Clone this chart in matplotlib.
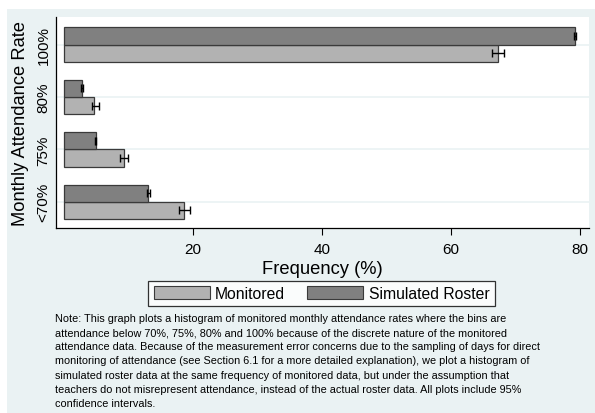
import numpy as np
import matplotlib.pyplot as plt
from matplotlib.patches import Rectangle, Patch

plt.rcParams['font.family'] = ['Liberation Sans', 'DejaVu Sans']

# bins of monthly attendance, bottom to top
categories = ['<70%', '75%', '80%', '100%']
monitored = [18.6, 9.3, 4.7, 67.3]
monitored_lo = [17.8, 8.7, 4.3, 66.4]
monitored_hi = [19.6, 9.9, 5.4, 68.2]
simulated = [13.1, 4.9, 2.8, 79.2]
simulated_lo = [12.9, 4.8, 2.7, 79.0]
simulated_hi = [13.3, 5.0, 3.0, 79.4]

note = ("Note: This graph plots a histogram of monitored monthly attendance rates where the bins are\n"
        "attendance below 70%, 75%, 80% and 100% because of the discrete nature of the monitored\n"
        "attendance data. Because of the measurement error concerns due to the sampling of days for direct\n"
        "monitoring of attendance (see Section 6.1 for a more detailed explanation), we plot a histogram of\n"
        "simulated roster data at the same frequency of monitored data, but under the assumption that\n"
        "teachers do not misrepresent attendance, instead of the actual roster data. All plots include 95%\n"
        "confidence intervals.")

bg = '#eaf2f3'
light = '#b2b2b2'
dark = '#808080'
edge = '#3a3a3a'

W, H = 595, 414
fig = plt.figure(figsize=(W / 100, H / 100), dpi=100)
fig.patches.append(Rectangle((7 / W, 0), 1, 1 - 10 / H, transform=fig.transFigure,
                             facecolor=bg, edgecolor='none', zorder=-10))

ax = fig.add_axes([56 / W, 1 - 229 / H, (589 - 56) / W, (229 - 18) / H])
ax.set_facecolor('white')

y = np.arange(len(categories))
h = 0.33
mon = np.array(monitored)
sim = np.array(simulated)

ax.barh(y - h / 2, mon, height=h, color=light, edgecolor=edge, linewidth=0.9, zorder=3)
ax.barh(y + h / 2, sim, height=h, color=dark, edgecolor=edge, linewidth=0.9, zorder=3)
ax.errorbar(mon, y - h / 2, xerr=[mon - np.array(monitored_lo), np.array(monitored_hi) - mon],
            fmt='none', ecolor='black', elinewidth=1, capsize=3, capthick=1, zorder=4)
ax.errorbar(sim, y + h / 2, xerr=[sim - np.array(simulated_lo), np.array(simulated_hi) - sim],
            fmt='none', ecolor='black', elinewidth=1, capsize=3, capthick=1, zorder=4)

for yy in y:
    ax.axhline(yy, color=bg, linewidth=1.2, zorder=1)

ax.set_xlim(-1.24, 81.4)
ax.set_ylim(-0.5, 3.53)
ax.set_xticks([20, 40, 60, 80])
ax.tick_params(axis='x', length=5, width=0.8, labelsize=11, pad=5)
ax.set_yticks(y)
ax.set_yticklabels(categories, rotation=90, va='center', fontsize=11)
ax.tick_params(axis='y', length=0, pad=4)

for s in ['top', 'right']:
    ax.spines[s].set_visible(False)
for s in ['left', 'bottom']:
    ax.spines[s].set_linewidth(0.9)

ax.set_xlabel('Frequency (%)', fontsize=13.2, labelpad=3)
ax.set_ylabel('Monthly Attendance Rate', fontsize=13.2, labelpad=5)

handles = [Patch(facecolor=light, edgecolor=edge, linewidth=0.8, label='Monitored'),
           Patch(facecolor=dark, edgecolor=edge, linewidth=0.8, label='Simulated Roster')]
leg = fig.legend(handles=handles, loc='center', bbox_to_anchor=(321.5 / W, 1 - 294.5 / H),
                 ncol=2, fontsize=11.3, frameon=True, fancybox=False, handlelength=3.57,
                 handleheight=0.9, handletextpad=0.35, columnspacing=1.4,
                 borderpad=0.35, borderaxespad=0)
leg.get_frame().set_edgecolor('black')
leg.get_frame().set_linewidth(0.9)

fig.text(55 / W, 1 - 314 / H, note, fontsize=7.8, va='top', ha='left', linespacing=1.52)

fig.savefig('out.png', dpi=100)
